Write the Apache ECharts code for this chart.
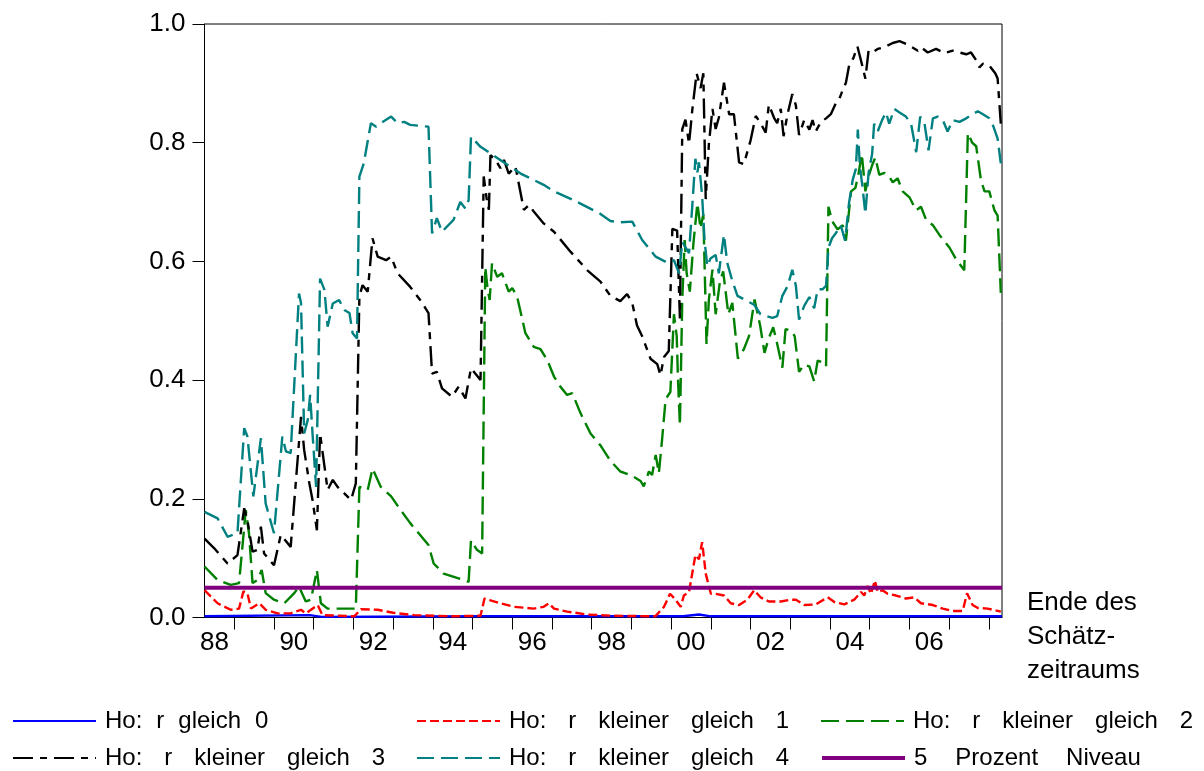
<!DOCTYPE html>
<html lang="de">
<head>
<meta charset="UTF-8">
<title>Trace-Test p-Werte</title>
<script src="https://cdn.jsdelivr.net/npm/echarts@6.0.0/dist/echarts.min.js"></script>
<style>
  html, body { margin: 0; padding: 0; background: #fff; }
  #chart { width: 1204px; height: 771px; }
</style>
</head>
<body>
<div id="chart"></div>
<script>
// x-Achse: Jahre (dezimal), Beschriftung mittig im Jahr
var xStart = 1988.25;
var xEnd = 2008.33;
var tickYears = [1989, 1990, 1991, 1992, 1993, 1994, 1995, 1996, 1997, 1998, 1999,
                 2000, 2001, 2002, 2003, 2004, 2005, 2006, 2007, 2008];
var labelYears = [1988.5, 1990.5, 1992.5, 1994.5, 1996.5, 1998.5, 2000.5, 2002.5, 2004.5, 2006.5];
var labelTexts = ['88', '90', '92', '94', '96', '98', '00', '02', '04', '06'];

// Ho: r gleich 0
var r0 = [[1988.25, 0.002], [1990.9, 0.004], [1991.2, 0.001], [1995.3, 0.002], [2000.3, 0.002],
          [2000.7, 0.005], [2001.0, 0.002], [2005.1, 0.002], [2008.33, 0.002]];

// Ho: r kleiner gleich 1
var r1 = [[1988.25, 0.046], [1988.58, 0.024], [1988.91, 0.013], [1989.12, 0.015], [1989.23, 0.044],
          [1989.33, 0.041], [1989.42, 0.015], [1989.63, 0.024], [1989.79, 0.013], [1990.09, 0.007],
          [1990.42, 0.007], [1990.68, 0.013], [1990.8, 0.007], [1991.1, 0.021], [1991.22, 0.004],
          [1992.02, 0.002], [1992.19, 0.014], [1992.61, 0.013], [1993.0, 0.008], [1993.53, 0.004],
          [1994.5, 0.002], [1995.2, 0.003], [1995.3, 0.032], [1995.45, 0.029], [1995.7, 0.024],
          [1996.04, 0.018], [1996.54, 0.015], [1996.79, 0.018], [1996.92, 0.024], [1997.05, 0.015],
          [1997.38, 0.01], [1997.89, 0.005], [1998.5, 0.003], [1999.6, 0.002], [1999.82, 0.018],
          [1999.97, 0.04], [2000.11, 0.03], [2000.24, 0.018], [2000.32, 0.037], [2000.45, 0.043],
          [2000.61, 0.105], [2000.7, 0.098], [2000.78, 0.127], [2000.87, 0.074], [2001.0, 0.04],
          [2001.12, 0.04], [2001.33, 0.037], [2001.5, 0.024], [2001.71, 0.021], [2001.92, 0.03],
          [2002.09, 0.046], [2002.25, 0.034], [2002.46, 0.027], [2002.76, 0.027], [2003.01, 0.03],
          [2003.14, 0.03], [2003.35, 0.021], [2003.64, 0.022], [2003.94, 0.034], [2004.11, 0.026],
          [2004.36, 0.022], [2004.61, 0.03], [2004.78, 0.043], [2004.86, 0.037], [2004.95, 0.053],
          [2005.03, 0.04], [2005.13, 0.062], [2005.2, 0.043], [2005.32, 0.046], [2005.45, 0.04],
          [2005.66, 0.037], [2005.91, 0.032], [2006.12, 0.034], [2006.29, 0.024], [2006.59, 0.021],
          [2006.84, 0.015], [2007.09, 0.011], [2007.34, 0.011], [2007.45, 0.041], [2007.59, 0.021],
          [2007.72, 0.016], [2007.97, 0.015], [2008.3, 0.01]];

// Ho: r kleiner gleich 2
var r2 = [[1988.25, 0.086], [1988.58, 0.063], [1988.91, 0.055], [1989.12, 0.058], [1989.29, 0.181],
          [1989.37, 0.142], [1989.46, 0.058], [1989.58, 0.063], [1989.69, 0.08], [1989.79, 0.041],
          [1990.0, 0.03], [1990.26, 0.024], [1990.51, 0.041], [1990.63, 0.052], [1990.8, 0.027],
          [1990.93, 0.03], [1991.08, 0.08], [1991.18, 0.024], [1991.35, 0.015], [1992.06, 0.015],
          [1992.15, 0.22], [1992.26, 0.218], [1992.36, 0.215], [1992.48, 0.251], [1992.69, 0.22],
          [1992.95, 0.204], [1993.2, 0.18], [1993.43, 0.159], [1993.89, 0.122], [1994.02, 0.091],
          [1994.27, 0.074], [1994.78, 0.063], [1994.9, 0.06], [1994.96, 0.13], [1995.11, 0.114],
          [1995.24, 0.108], [1995.32, 0.591], [1995.38, 0.552], [1995.43, 0.535], [1995.49, 0.597],
          [1995.62, 0.574], [1995.74, 0.58], [1995.91, 0.549], [1996.0, 0.555], [1996.12, 0.541],
          [1996.33, 0.479], [1996.54, 0.456], [1996.71, 0.452], [1996.88, 0.434], [1997.05, 0.406],
          [1997.21, 0.389], [1997.38, 0.375], [1997.51, 0.378], [1997.72, 0.344], [1997.97, 0.31],
          [1998.22, 0.29], [1998.47, 0.264], [1998.72, 0.246], [1998.98, 0.24], [1999.23, 0.23],
          [1999.31, 0.221], [1999.44, 0.246], [1999.52, 0.24], [1999.61, 0.274], [1999.69, 0.243],
          [1999.77, 0.299], [1999.86, 0.368], [1999.98, 0.38], [2000.07, 0.511], [2000.14, 0.474],
          [2000.17, 0.405], [2000.22, 0.324], [2000.28, 0.536], [2000.34, 0.636], [2000.39, 0.58],
          [2000.47, 0.549], [2000.56, 0.63], [2000.66, 0.698], [2000.74, 0.655], [2000.81, 0.68],
          [2000.89, 0.461], [2000.95, 0.536], [2001.04, 0.586], [2001.12, 0.511], [2001.23, 0.567],
          [2001.31, 0.583], [2001.44, 0.511], [2001.54, 0.53], [2001.68, 0.436], [2001.83, 0.452],
          [2001.96, 0.474], [2002.1, 0.536], [2002.24, 0.492], [2002.35, 0.446], [2002.46, 0.471],
          [2002.57, 0.489], [2002.67, 0.461], [2002.8, 0.421], [2002.88, 0.486], [2003.03, 0.483],
          [2003.11, 0.474], [2003.22, 0.414], [2003.35, 0.426], [2003.48, 0.423], [2003.6, 0.398],
          [2003.69, 0.433], [2003.81, 0.43], [2003.9, 0.423], [2003.96, 0.692], [2004.06, 0.667],
          [2004.19, 0.654], [2004.32, 0.661], [2004.4, 0.635], [2004.53, 0.718], [2004.64, 0.724],
          [2004.72, 0.749], [2004.8, 0.781], [2004.89, 0.718], [2004.97, 0.743], [2005.06, 0.762],
          [2005.14, 0.775], [2005.24, 0.746], [2005.37, 0.749], [2005.49, 0.743], [2005.58, 0.733],
          [2005.7, 0.74], [2005.83, 0.718], [2006.0, 0.708], [2006.17, 0.686], [2006.29, 0.692],
          [2006.42, 0.67], [2006.59, 0.661], [2006.75, 0.645], [2007.01, 0.623], [2007.17, 0.604],
          [2007.38, 0.585], [2007.47, 0.816], [2007.58, 0.8], [2007.68, 0.794], [2007.8, 0.737],
          [2007.89, 0.718], [2008.01, 0.718], [2008.14, 0.686], [2008.22, 0.677], [2008.3, 0.547]];

// Ho: r kleiner gleich 3
var r3 = [[1988.25, 0.133], [1988.49, 0.117], [1988.83, 0.091], [1989.08, 0.105], [1989.25, 0.184],
          [1989.33, 0.164], [1989.46, 0.111], [1989.58, 0.114], [1989.67, 0.153], [1989.75, 0.108],
          [1990.0, 0.088], [1990.17, 0.139], [1990.42, 0.119], [1990.68, 0.338], [1990.76, 0.282],
          [1990.89, 0.226], [1990.97, 0.198], [1991.08, 0.147], [1991.16, 0.31], [1991.25, 0.265],
          [1991.35, 0.215], [1991.48, 0.232], [1991.6, 0.22], [1991.94, 0.198], [1992.06, 0.226],
          [1992.15, 0.541], [1992.23, 0.56], [1992.36, 0.549], [1992.48, 0.639], [1992.61, 0.608],
          [1992.82, 0.602], [1992.95, 0.608], [1993.11, 0.58], [1993.43, 0.557], [1993.68, 0.535],
          [1993.89, 0.513], [1993.98, 0.411], [1994.1, 0.414], [1994.23, 0.386], [1994.48, 0.372],
          [1994.65, 0.389], [1994.82, 0.369], [1994.96, 0.42], [1995.2, 0.4], [1995.28, 0.743],
          [1995.36, 0.703], [1995.41, 0.687], [1995.45, 0.779], [1995.58, 0.771], [1995.7, 0.757],
          [1995.79, 0.771], [1995.91, 0.748], [1996.08, 0.76], [1996.29, 0.687], [1996.42, 0.695],
          [1996.54, 0.684], [1996.79, 0.664], [1997.05, 0.65], [1997.47, 0.616], [1997.89, 0.585],
          [1998.22, 0.566], [1998.47, 0.542], [1998.72, 0.533], [1998.89, 0.545], [1999.02, 0.53],
          [1999.14, 0.492], [1999.27, 0.474], [1999.48, 0.436], [1999.65, 0.427], [1999.73, 0.408],
          [1999.82, 0.439], [1999.94, 0.449], [2000.03, 0.655], [2000.15, 0.652], [2000.22, 0.504],
          [2000.28, 0.823], [2000.36, 0.839], [2000.45, 0.798], [2000.53, 0.854], [2000.64, 0.917],
          [2000.74, 0.892], [2000.81, 0.917], [2000.87, 0.705], [2000.95, 0.798], [2001.04, 0.857],
          [2001.12, 0.823], [2001.2, 0.842], [2001.33, 0.901], [2001.46, 0.848], [2001.58, 0.848],
          [2001.71, 0.767], [2001.83, 0.764], [2002.0, 0.804], [2002.13, 0.845], [2002.25, 0.833],
          [2002.38, 0.817], [2002.46, 0.864], [2002.59, 0.842], [2002.67, 0.833], [2002.76, 0.857],
          [2002.83, 0.811], [2002.93, 0.848], [2003.05, 0.882], [2003.14, 0.863], [2003.22, 0.813],
          [2003.35, 0.838], [2003.48, 0.822], [2003.56, 0.838], [2003.64, 0.819], [2003.77, 0.835],
          [2003.9, 0.841], [2004.02, 0.848], [2004.15, 0.867], [2004.23, 0.873], [2004.32, 0.889],
          [2004.4, 0.901], [2004.48, 0.93], [2004.59, 0.943], [2004.69, 0.962], [2004.8, 0.933],
          [2004.89, 0.908], [2004.97, 0.955], [2005.07, 0.952], [2005.2, 0.958], [2005.37, 0.961],
          [2005.58, 0.968], [2005.75, 0.971], [2005.96, 0.965], [2006.21, 0.955], [2006.29, 0.961],
          [2006.46, 0.952], [2006.67, 0.958], [2006.88, 0.951], [2007.09, 0.955], [2007.26, 0.952],
          [2007.43, 0.949], [2007.55, 0.952], [2007.68, 0.939], [2007.76, 0.927], [2007.85, 0.933],
          [2008.01, 0.93], [2008.16, 0.917], [2008.22, 0.908], [2008.3, 0.832]];

// Ho: r kleiner gleich 4
var r4 = [[1988.25, 0.178], [1988.58, 0.167], [1988.83, 0.136], [1989.08, 0.142], [1989.25, 0.319],
          [1989.33, 0.305], [1989.48, 0.204], [1989.67, 0.302], [1989.79, 0.192], [1990.0, 0.142],
          [1990.21, 0.305], [1990.3, 0.28], [1990.42, 0.277], [1990.63, 0.546], [1990.68, 0.53],
          [1990.76, 0.31], [1990.85, 0.333], [1990.91, 0.375], [1990.97, 0.31], [1991.06, 0.22],
          [1991.16, 0.571], [1991.27, 0.552], [1991.35, 0.49], [1991.48, 0.529], [1991.64, 0.535],
          [1991.77, 0.518], [1991.9, 0.513], [1991.98, 0.479], [1992.09, 0.47], [1992.15, 0.743],
          [1992.26, 0.765], [1992.44, 0.833], [1992.57, 0.827], [1992.69, 0.833], [1992.95, 0.844],
          [1993.11, 0.833], [1993.28, 0.835], [1993.43, 0.83], [1993.89, 0.827], [1993.98, 0.647],
          [1994.1, 0.673], [1994.23, 0.65], [1994.52, 0.67], [1994.69, 0.7], [1994.82, 0.689],
          [1994.9, 0.703], [1994.96, 0.81], [1995.2, 0.793], [1995.45, 0.782], [1996.21, 0.748],
          [1996.79, 0.729], [1997.05, 0.718], [1997.55, 0.703], [1998.22, 0.68], [1998.47, 0.668],
          [1998.72, 0.666], [1999.02, 0.667], [1999.27, 0.636], [1999.61, 0.608], [1999.9, 0.598],
          [2000.07, 0.602], [2000.2, 0.58], [2000.28, 0.633], [2000.45, 0.614], [2000.53, 0.692],
          [2000.61, 0.773], [2000.66, 0.75], [2000.7, 0.767], [2000.78, 0.71], [2000.84, 0.636],
          [2000.91, 0.592], [2000.99, 0.605], [2001.12, 0.611], [2001.2, 0.58], [2001.33, 0.645],
          [2001.41, 0.598], [2001.54, 0.567], [2001.67, 0.542], [2001.92, 0.533], [2002.09, 0.527],
          [2002.25, 0.511], [2002.55, 0.505], [2002.67, 0.508], [2002.8, 0.542], [2002.93, 0.558],
          [2003.05, 0.586], [2003.14, 0.559], [2003.22, 0.502], [2003.35, 0.525], [2003.48, 0.54],
          [2003.6, 0.521], [2003.69, 0.553], [2003.81, 0.553], [2003.9, 0.559], [2003.96, 0.623],
          [2004.05, 0.639], [2004.15, 0.648], [2004.27, 0.661], [2004.38, 0.635], [2004.48, 0.699],
          [2004.57, 0.737], [2004.65, 0.756], [2004.7, 0.822], [2004.75, 0.762], [2004.82, 0.724],
          [2004.89, 0.68], [2004.97, 0.749], [2005.06, 0.781], [2005.11, 0.832], [2005.2, 0.819],
          [2005.31, 0.838], [2005.41, 0.851], [2005.49, 0.832], [2005.62, 0.857], [2005.75, 0.851],
          [2005.91, 0.844], [2006.04, 0.832], [2006.17, 0.784], [2006.27, 0.844], [2006.38, 0.832],
          [2006.48, 0.787], [2006.59, 0.841], [2006.71, 0.844], [2006.84, 0.838], [2006.96, 0.819],
          [2007.09, 0.838], [2007.26, 0.835], [2007.43, 0.841], [2007.59, 0.848], [2007.72, 0.853],
          [2007.85, 0.848], [2008.01, 0.841], [2008.11, 0.828], [2008.22, 0.807], [2008.3, 0.765]];

// 5 Prozent Niveau
var level5 = [[1988.25, 0.05], [2008.33, 0.05]];

var names = ['Ho: r gleich 0', 'Ho: r kleiner gleich 1', 'Ho: r kleiner gleich 2',
             'Ho: r kleiner gleich 3', 'Ho: r kleiner gleich 4', '5 Prozent Niveau'];

var font = 'Liberation Sans, Arial, sans-serif';

function mkLegend(name, left, top, spaceWidth, lineWidth) {
    return {
        data: [name],
        left: left,
        top: top,
        orient: 'horizontal',
        itemWidth: 83,
        itemHeight: 14,
        itemStyle: { opacity: 0 },
        lineStyle: { width: lineWidth },
        formatter: function (n) { return n.split(' ').join('{s| }'); },
        textStyle: {
            fontFamily: font,
            fontSize: 24,
            color: '#000',
            padding: [0, 0, 0, 4],
            rich: { s: { width: spaceWidth, fontSize: 24, fontFamily: font } }
        }
    };
}

function mkSeries(name, data, color, type, width) {
    return {
        name: name,
        type: 'line',
        data: data,
        symbol: 'none',
        showSymbol: false,
        animation: false,
        lineStyle: { color: color, type: type, width: width },
        itemStyle: { color: color }
    };
}

var chart = echarts.init(document.getElementById('chart'));
chart.setOption({
    backgroundColor: '#fff',
    animation: false,
    grid: {
        left: 204.5, right: 202, top: 24, bottom: 153.5,
        show: true, borderColor: '#000', borderWidth: 1
    },
    xAxis: {
        type: 'value',
        min: xStart,
        max: xEnd,
        splitLine: { show: false },
        axisLine: { onZero: false, lineStyle: { color: '#000', width: 1 } },
        axisTick: { customValues: tickYears, length: 12, lineStyle: { color: '#000' } },
        axisLabel: {
            customValues: labelYears,
            margin: 12,
            fontFamily: font,
            fontSize: 26,
            color: '#000',
            formatter: function (v) {
                var i = labelYears.indexOf(v);
                return i >= 0 ? labelTexts[i] : '';
            }
        }
    },
    yAxis: {
        type: 'value',
        min: 0,
        max: 1,
        interval: 0.2,
        splitLine: { show: false },
        axisLine: { show: true, lineStyle: { color: '#000', width: 1 } },
        axisTick: { show: true, length: 12, lineStyle: { color: '#000' } },
        axisLabel: {
            margin: 19,
            fontFamily: font,
            fontSize: 26,
            color: '#000',
            formatter: function (v) { return v.toFixed(1); }
        }
    },
    legend: [
        mkLegend(names[0], 7, 704, 14, 2),
        mkLegend(names[1], 411, 704, 22, 2),
        mkLegend(names[2], 815, 704, 22, 2),
        mkLegend(names[3], 7, 741, 22, 2),
        mkLegend(names[4], 411, 741, 22, 2),
        mkLegend(names[5], 815, 741, 28, 4)
    ],
    graphic: [{
        type: 'text',
        left: 1027,
        top: 586,
        style: {
            text: 'Ende des\nSchätz-\nzeitraums',
            fontFamily: font,
            fontSize: 26,
            lineHeight: 34,
            fill: '#000'
        }
    }],
    series: [
        mkSeries(names[0], r0, '#0000ff', 'solid', 2.4),
        mkSeries(names[1], r1, '#ff0000', [9, 4], 2.4),
        mkSeries(names[2], r2, '#008000', [18, 7], 2.4),
        mkSeries(names[3], r3, '#000000', [20, 7, 7, 7], 2.4),
        mkSeries(names[4], r4, '#008080', [17, 7], 2.4),
        mkSeries(names[5], level5, '#800080', 'solid', 4)
    ]
});
</script>
</body>
</html>
